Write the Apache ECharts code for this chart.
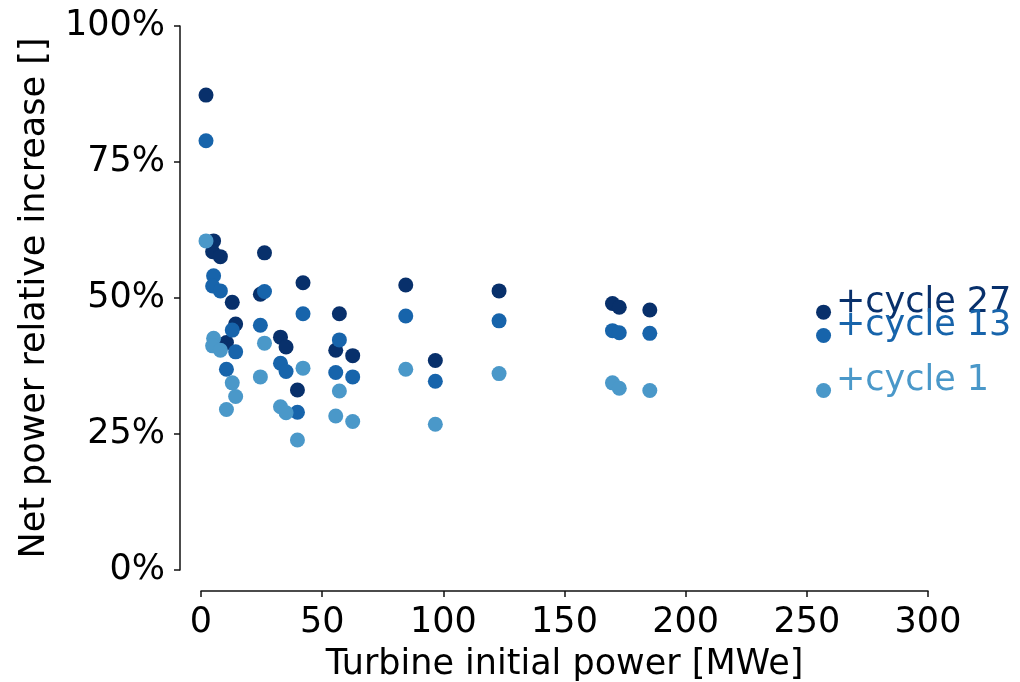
<!DOCTYPE html>
<html>
<head>
<meta charset="utf-8">
<script src="https://cdn.jsdelivr.net/npm/echarts@6/dist/echarts.min.js"></script>
<style>html,body{margin:0;padding:0;background:#fff}#c{width:1020px;height:682px}</style>
</head>
<body>
<div id="c"></div>
<script>
// Turbine initial power [MWe]
const power = [2.07, 5.2, 4.8, 8.0, 26.2, 12.9, 14.3, 10.5, 24.5, 42.1, 32.8, 35.1, 39.8, 57.1, 55.6, 62.6, 84.5, 96.7, 123, 169.8, 172.6, 185.2, 256.9];
// Net power relative increase [%]
const cycle27 = [87.3, 60.5, 58.5, 57.6, 58.3, 49.2, 45.2, 41.8, 50.7, 52.8, 42.8, 41.0, 33.1, 47.1, 40.4, 39.4, 52.4, 38.5, 51.3, 49.0, 48.3, 47.8, 47.4];
const cycle13 = [78.9, 54.1, 52.2, 51.3, 51.2, 44.1, 40.1, 36.9, 45.0, 47.1, 38.0, 36.5, 29.0, 42.3, 36.3, 35.5, 46.7, 34.7, 45.8, 44.0, 43.6, 43.5, 43.1];
const cycle1  = [60.5, 42.6, 41.2, 40.4, 41.7, 34.4, 31.9, 29.5, 35.5, 37.1, 30.0, 28.9, 23.9, 32.9, 28.3, 27.3, 36.9, 26.8, 36.1, 34.4, 33.4, 33.0, 33.0];
const seriesNames = ['+cycle 27', '+cycle 13', '+cycle 1'];
const seriesColors = ['#08306b', '#1764ab', '#4a98c9'];
const xTicks = [0, 50, 100, 150, 200, 250, 300];
const yTicks = [0, 25, 50, 75, 100];

const FONT = 'DejaVu Sans';
const FS = 35;
const labelX = 262;

function mkSeries(name, vals, color) {
  const lastIdx = vals.length - 1;
  return {
    name: name,
    type: 'scatter',
    symbolSize: 15,
    itemStyle: { color: color, opacity: 1 },
    data: power.map((p, i) => [p, vals[i]]),
    markPoint: {
      symbol: 'circle',
      symbolSize: 0,
      silent: true,
      data: [{
        coord: [labelX, vals[lastIdx]],
        label: {
          show: true,
          formatter: name,
          position: [0, 0],
          align: 'left',
          verticalAlign: 'bottom',
          offset: [0, 8],
          color: color,
          fontFamily: FONT,
          fontSize: FS
        }
      }]
    }
  };
}

const chart = echarts.init(document.getElementById('c'), null, { renderer: 'canvas' });
chart.setOption({
  animation: false,
  backgroundColor: '#ffffff',
  grid: { left: 201, right: 92, top: 26, bottom: 112, containLabel: false, outerBoundsMode: 'none' },
  xAxis: {
    type: 'value',
    min: xTicks[0], max: xTicks[xTicks.length - 1], interval: 50,
    offset: 21,
    name: 'Turbine initial power [MWe]',
    nameLocation: 'middle',
    nameGap: 56,
    nameTextStyle: { fontFamily: FONT, fontSize: FS, color: '#000' },
    axisLine: { show: true, onZero: false, lineStyle: { color: '#111', width: 1.5 } },
    axisTick: { show: true, length: 6, lineStyle: { color: '#111', width: 1.5 } },
    axisLabel: { fontFamily: FONT, fontSize: FS, color: '#000', margin: 14 },
    splitLine: { show: false }
  },
  yAxis: {
    type: 'value',
    min: yTicks[0], max: yTicks[yTicks.length - 1], interval: 25,
    offset: 21,
    name: 'Net power relative increase []',
    nameLocation: 'middle',
    nameGap: 128,
    nameTextStyle: { fontFamily: FONT, fontSize: FS, color: '#000' },
    axisLine: { show: true, onZero: false, lineStyle: { color: '#111', width: 1.5 } },
    axisTick: { show: true, length: 6, lineStyle: { color: '#111', width: 1.5 } },
    axisLabel: { fontFamily: FONT, fontSize: FS, color: '#000', margin: 15, formatter: '{value}%' },
    splitLine: { show: false }
  },
  series: [
    mkSeries(seriesNames[0], cycle27, seriesColors[0]),
    mkSeries(seriesNames[1], cycle13, seriesColors[1]),
    mkSeries(seriesNames[2], cycle1, seriesColors[2])
  ]
});
</script>
</body>
</html>
